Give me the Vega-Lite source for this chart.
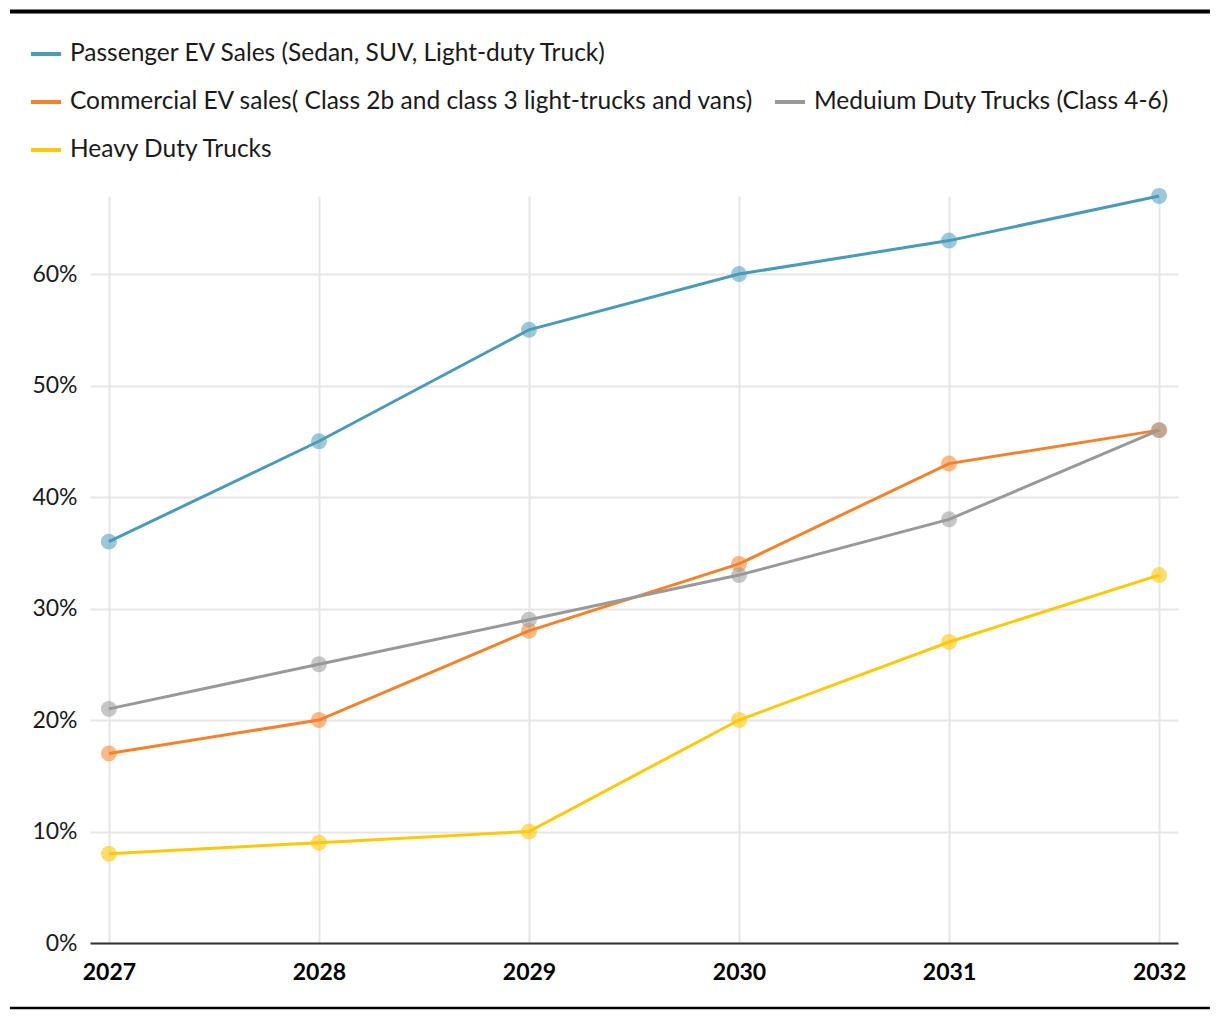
{
  "$schema": "https://vega.github.io/schema/vega-lite/v6.json",
  "autosize": {"type": "none"},
  "padding": {"left": 90, "top": 196, "right": 42, "bottom": 77},
  "width": 1088,
  "height": 747,
  "background": "white",
  "config": {
    "font": "Lato",
    "view": {"stroke": null},
    "axis": {"gridColor": "#e6e6e6", "gridWidth": 2, "ticks": false, "labelColor": "#1a1a1a", "labelFont": "Lato", "labelFontSize": 23, "title": null},
    "legend": {"padding": 0, "labelFont": "Lato", "labelFontSize": 24.5, "labelColor": "#1a1a1a", "labelLimit": 1000, "symbolType": "stroke", "symbolStrokeWidth": 4, "symbolSize": 900, "labelOffset": 7, "title": null}
  },
  "data": {"values": [
    {"year": 2027, "series": "Passenger EV Sales (Sedan, SUV, Light-duty Truck)", "share": 0.36},
    {"year": 2028, "series": "Passenger EV Sales (Sedan, SUV, Light-duty Truck)", "share": 0.45},
    {"year": 2029, "series": "Passenger EV Sales (Sedan, SUV, Light-duty Truck)", "share": 0.55},
    {"year": 2030, "series": "Passenger EV Sales (Sedan, SUV, Light-duty Truck)", "share": 0.60},
    {"year": 2031, "series": "Passenger EV Sales (Sedan, SUV, Light-duty Truck)", "share": 0.63},
    {"year": 2032, "series": "Passenger EV Sales (Sedan, SUV, Light-duty Truck)", "share": 0.67},
    {"year": 2027, "series": "Commercial EV sales( Class 2b and class 3 light-trucks and vans)", "share": 0.17},
    {"year": 2028, "series": "Commercial EV sales( Class 2b and class 3 light-trucks and vans)", "share": 0.20},
    {"year": 2029, "series": "Commercial EV sales( Class 2b and class 3 light-trucks and vans)", "share": 0.28},
    {"year": 2030, "series": "Commercial EV sales( Class 2b and class 3 light-trucks and vans)", "share": 0.34},
    {"year": 2031, "series": "Commercial EV sales( Class 2b and class 3 light-trucks and vans)", "share": 0.43},
    {"year": 2032, "series": "Commercial EV sales( Class 2b and class 3 light-trucks and vans)", "share": 0.46},
    {"year": 2027, "series": "Meduium Duty Trucks (Class 4-6)", "share": 0.21},
    {"year": 2028, "series": "Meduium Duty Trucks (Class 4-6)", "share": 0.25},
    {"year": 2029, "series": "Meduium Duty Trucks (Class 4-6)", "share": 0.29},
    {"year": 2030, "series": "Meduium Duty Trucks (Class 4-6)", "share": 0.33},
    {"year": 2031, "series": "Meduium Duty Trucks (Class 4-6)", "share": 0.38},
    {"year": 2032, "series": "Meduium Duty Trucks (Class 4-6)", "share": 0.46},
    {"year": 2027, "series": "Heavy Duty Trucks", "share": 0.08},
    {"year": 2028, "series": "Heavy Duty Trucks", "share": 0.09},
    {"year": 2029, "series": "Heavy Duty Trucks", "share": 0.10},
    {"year": 2030, "series": "Heavy Duty Trucks", "share": 0.20},
    {"year": 2031, "series": "Heavy Duty Trucks", "share": 0.27},
    {"year": 2032, "series": "Heavy Duty Trucks", "share": 0.33}
  ]},
  "layer": [
    {
      "encoding": {
        "x": {"field": "year", "type": "quantitative",
          "scale": {"domain": [2026.91, 2032.09], "nice": false, "zero": false},
          "axis": {"values": [2027, 2028, 2029, 2030, 2031, 2032], "format": "d", "labelFontWeight": "bold", "labelColor": "#000", "domain": true, "domainColor": "#333333", "domainWidth": 2, "labelPadding": 18, "labelFlush": false}},
        "y": {"field": "share", "type": "quantitative",
          "scale": {"domain": [0, 0.67], "nice": false},
          "axis": {"values": [0, 0.1, 0.2, 0.3, 0.4, 0.5, 0.6], "format": ".0%", "domain": false, "labelPadding": 13}}
      },
      "layer": [
        {
          "transform": [{"filter": "datum.series === 'Passenger EV Sales (Sedan, SUV, Light-duty Truck)'"}],
          "layer": [
            {"mark": {"type": "circle", "color": "#4a9aba", "opacity": 0.55, "size": 255}},
            {"mark": {"type": "line", "strokeWidth": 3},
             "encoding": {"color": {"field": "series", "type": "nominal",
               "scale": {"domain": ["Passenger EV Sales (Sedan, SUV, Light-duty Truck)"], "range": ["#4a9aba"]},
               "legend": {"orient": "none", "legendX": -61, "legendY": -159}}}}
          ]
        },
        {
          "transform": [{"filter": "datum.series === 'Commercial EV sales( Class 2b and class 3 light-trucks and vans)'"}],
          "layer": [
            {"mark": {"type": "circle", "color": "#f5822a", "opacity": 0.55, "size": 255}},
            {"mark": {"type": "line", "strokeWidth": 3},
             "encoding": {"color": {"field": "series", "type": "nominal",
               "scale": {"domain": ["Commercial EV sales( Class 2b and class 3 light-trucks and vans)"], "range": ["#f5822a"]},
               "legend": {"orient": "none", "legendX": -61, "legendY": -111}}}}
          ]
        },
        {
          "transform": [{"filter": "datum.series === 'Meduium Duty Trucks (Class 4-6)'"}],
          "layer": [
            {"mark": {"type": "circle", "color": "#999999", "opacity": 0.55, "size": 255}},
            {"mark": {"type": "line", "strokeWidth": 3},
             "encoding": {"color": {"field": "series", "type": "nominal",
               "scale": {"domain": ["Meduium Duty Trucks (Class 4-6)"], "range": ["#999999"]},
               "legend": {"orient": "none", "legendX": 683, "legendY": -111}}}}
          ]
        },
        {
          "transform": [{"filter": "datum.series === 'Heavy Duty Trucks'"}],
          "layer": [
            {"mark": {"type": "circle", "color": "#ffc80a", "opacity": 0.6, "size": 255}},
            {"mark": {"type": "line", "strokeWidth": 3},
             "encoding": {"color": {"field": "series", "type": "nominal",
               "scale": {"domain": ["Heavy Duty Trucks"], "range": ["#ffc80a"]},
               "legend": {"orient": "none", "legendX": -61, "legendY": -63}}}}
          ]
        }
      ],
      "resolve": {"scale": {"color": "independent"}, "legend": {"color": "independent"}}
    },
    {
      "data": {"values": [{"k": 1}]},
      "mark": {"type": "rule", "color": "#000", "strokeWidth": 4, "clip": false},
      "encoding": {
        "x": {"datum": 2026.529, "type": "quantitative"},
        "x2": {"datum": 2032.242},
        "y": {"datum": 0.8355, "type": "quantitative"}
      }
    },
    {
      "data": {"values": [{"k": 1}]},
      "mark": {"type": "rule", "color": "#000", "strokeWidth": 2.5, "clip": false},
      "encoding": {
        "x": {"datum": 2026.529, "type": "quantitative"},
        "x2": {"datum": 2032.242},
        "y": {"datum": -0.0583, "type": "quantitative"}
      }
    }
  ]
}
